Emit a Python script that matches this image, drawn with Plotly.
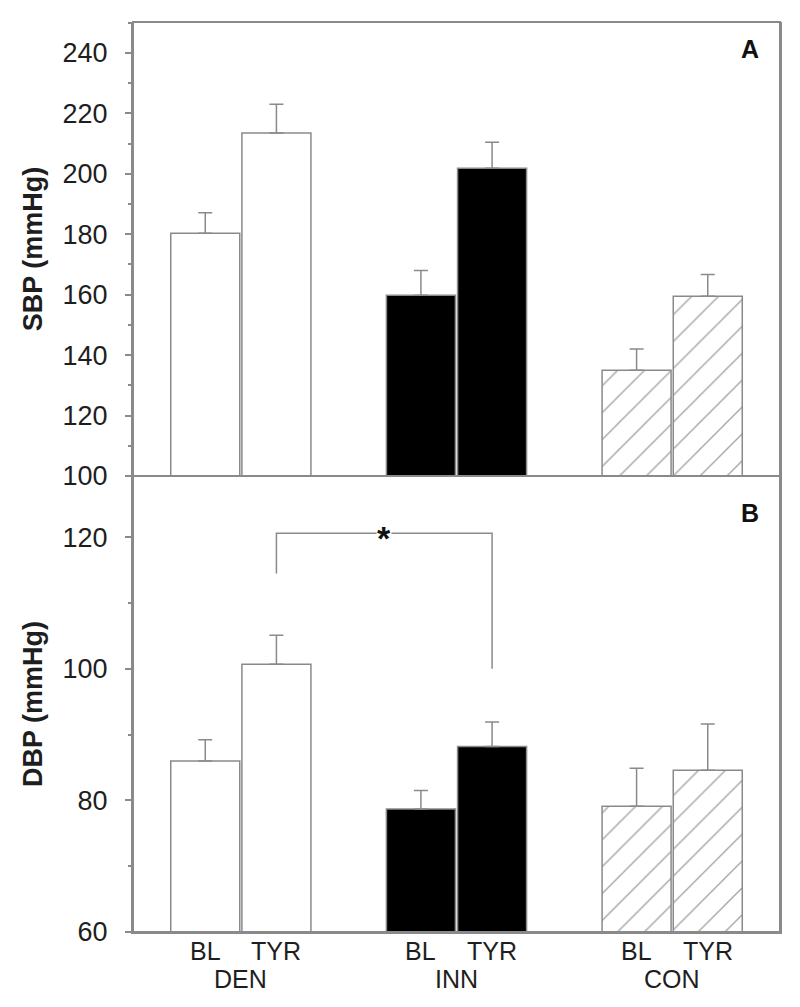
import plotly.graph_objects as go

groups = ["DEN", "INN", "CON"]
conditions = ["BL", "TYR"]
sbp_mean = [180.3, 213.5, 159.8, 201.8, 135.0, 159.5]
sbp_err = [6.8, 9.5, 8.2, 8.6, 7.0, 7.2]
dbp_mean = [86.0, 100.7, 78.7, 88.2, 79.1, 84.6]
dbp_err = [3.2, 4.4, 2.8, 3.7, 5.8, 7.0]
fill_colors = ["white", "white", "black", "black", "white", "white"]
patterns = ["", "", "", "", "/", "/"]
sig_pair = (1, 3)  # DEN TYR vs INN TYR
sig_levels = (114.5, 120.6, 100.0)  # left foot, bracket top, right foot

offset = 0.165
xpos = []
xlab = []
for gi, g in enumerate(groups):
    for ci, c in enumerate(conditions):
        xpos.append(gi + (-offset if ci == 0 else offset))
        xlab.append(c)

GRAY = "#8a8a8a"
FONT = "Liberation Sans, Arial, sans-serif"
TXT = "#1e1e1e"

W, H = 800, 1007
L, R, T, B = 133, 20, 22, 75
plot_w = W - L - R
plot_h = H - T - B
split = (931.7 - 475.7) / plot_h

fig = go.Figure()


def bar_trace(means, errs, yaxis):
    return go.Bar(
        x=xpos, y=means, width=0.32, xaxis="x", yaxis=yaxis,
        marker=dict(color=fill_colors,
                    line=dict(color=GRAY, width=1.5),
                    pattern=dict(shape=patterns, fgcolor="#9a9a9a", bgcolor="white",
                                 size=19, solidity=0.07, fillmode="overlay")),
        error_y=dict(type="data", symmetric=False, array=errs,
                     arrayminus=[0] * len(errs), color=GRAY, thickness=1.5, width=7),
        showlegend=False, hoverinfo="skip",
    )


fig.add_trace(bar_trace(sbp_mean, sbp_err, "y"))
fig.add_trace(bar_trace(dbp_mean, dbp_err, "y2"))

axis_common = dict(showline=True, linecolor=GRAY, linewidth=2, mirror=True,
                   ticks="outside", tickcolor=GRAY, ticklen=6, tickwidth=1.5,
                   showgrid=False, zeroline=False, ticklabelstandoff=12,
                   tickfont=dict(family=FONT, size=27, color=TXT))
minor = dict(dtick=10, ticks="outside", ticklen=3, tickcolor=GRAY, tickwidth=1.5)

fig.update_layout(
    width=W, height=H,
    margin=dict(l=L, r=R, t=T, b=B),
    paper_bgcolor="white", plot_bgcolor="white",
    font=dict(family=FONT, color=TXT),
    xaxis=dict(range=[-0.5, 2.5], domain=[0, 1], anchor="y2",
               tickvals=xpos, ticktext=xlab, ticks="", showticklabels=False,
               showline=True, linecolor=GRAY, linewidth=2, mirror=False,
               showgrid=False, zeroline=False),
    yaxis=dict(domain=[split, 1], range=[100, 250.2],
               tickvals=[100, 120, 140, 160, 180, 200, 220, 240],
               title=dict(text="<b>SBP (mmHg)</b>", font=dict(family=FONT, size=27, color=TXT), standoff=12),
               minor=minor, **axis_common),
    yaxis2=dict(domain=[0, split], range=[60, 129.3], tickvals=[60, 80, 100, 120],
                title=dict(text="<b>DBP (mmHg)</b>", font=dict(family=FONT, size=27, color=TXT), standoff=12),
                minor=minor, **axis_common),
)

# panel frames
fig.add_shape(type="rect", xref="x domain", yref="y domain", x0=0, x1=1, y0=0, y1=1,
              line=dict(color=GRAY, width=2))
fig.add_shape(type="rect", xref="x domain", yref="y2 domain", x0=0, x1=1, y0=0, y1=1,
              line=dict(color=GRAY, width=2))

# bar labels (BL / TYR) and group labels
for xv, lab in zip(xpos, xlab):
    fig.add_annotation(x=xv, xref="x", y=0, yref="paper", yshift=-18.5, text=lab,
                       showarrow=False, xanchor="center", yanchor="middle",
                       font=dict(family=FONT, size=25, color=TXT))
for gi, g in enumerate(groups):
    fig.add_annotation(x=gi, xref="x", y=0, yref="paper", yshift=-46.5, text=g,
                       showarrow=False, xanchor="center", yanchor="middle",
                       font=dict(family=FONT, size=25, color=TXT))

# panel labels
for lab, ypx in (("A", 49), ("B", 513)):
    fig.add_annotation(x=(750 - L) / plot_w, xref="paper", y=(931.7 - ypx) / plot_h, yref="paper",
                       text=f"<b>{lab}</b>", showarrow=False, xanchor="center", yanchor="middle",
                       font=dict(family=FONT, size=25, color="#111"))

# significance bracket
xa, xb = xpos[sig_pair[0]], xpos[sig_pair[1]]
yl, yt, yr = sig_levels
fig.add_shape(type="path", xref="x", yref="y2",
              path=f"M {xa} {yl} L {xa} {yt} L {xb} {yt} L {xb} {yr}",
              line=dict(color=GRAY, width=1.5))
fig.add_annotation(x=(xa + xb) / 2, xref="x", y=yt, yref="y2", text="<b>*</b>",
                   showarrow=False, bgcolor="white", yshift=-5, borderpad=0,
                   xanchor="center", yanchor="middle",
                   font=dict(family=FONT, size=34, color="#111"))

fig.write_html("out.html", config={"displayModeBar": False},
               post_script="document.body.style.margin='0';document.body.style.overflow='hidden';")
